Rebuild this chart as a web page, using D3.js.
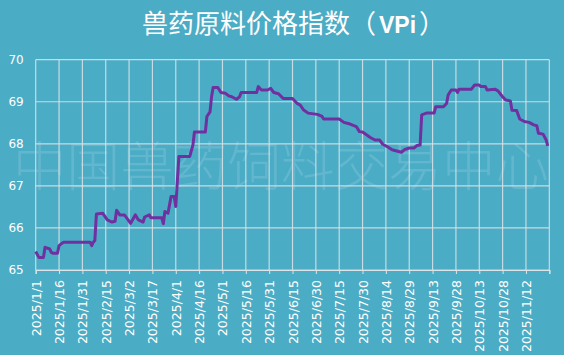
<!DOCTYPE html>
<html><head><meta charset="utf-8">
<script src="https://cdn.jsdelivr.net/npm/d3@7"></script>
<style>
html,body{margin:0;padding:0;background:#4BACC6;}
svg{display:block;}
</style></head>
<body>
<svg id="chart" width="564" height="355"></svg>
<script>
const titleText = "兽药原料价格指数";
const titleSuffix = "VPi";
const watermark = "中国兽药饲料交易中心";
const yTicks = [65, 66, 67, 68, 69, 70];
const xStart = "2025-01-01";
const xEnd = "2025-11-27";
const tickStepDays = 15;

const dates = [
"2025-01-01","2025-01-03","2025-01-06","2025-01-07","2025-01-10","2025-01-11","2025-01-12","2025-01-15","2025-01-16","2025-01-18","2025-01-19",
"2025-02-05","2025-02-06","2025-02-07","2025-02-08","2025-02-09","2025-02-13","2025-02-16","2025-02-19","2025-02-21","2025-02-22","2025-02-24","2025-02-27",
"2025-03-03","2025-03-06","2025-03-08","2025-03-11","2025-03-12","2025-03-15","2025-03-16","2025-03-23","2025-03-24","2025-03-25","2025-03-27","2025-03-29","2025-03-31",
"2025-04-01","2025-04-03","2025-04-10","2025-04-12","2025-04-13","2025-04-20","2025-04-21","2025-04-23","2025-04-24","2025-04-25","2025-04-28","2025-04-30",
"2025-05-03","2025-05-05","2025-05-07","2025-05-10","2025-05-12","2025-05-13","2025-05-23","2025-05-24","2025-05-26","2025-05-30",
"2025-06-01","2025-06-03","2025-06-06","2025-06-09","2025-06-15","2025-06-18","2025-06-20","2025-06-22","2025-06-25",
"2025-07-01","2025-07-04","2025-07-05","2025-07-15","2025-07-18","2025-07-22","2025-07-26","2025-07-28","2025-07-30",
"2025-08-04","2025-08-07","2025-08-10","2025-08-12","2025-08-15","2025-08-18","2025-08-21","2025-08-24","2025-08-26","2025-08-29",
"2025-09-01","2025-09-03","2025-09-05","2025-09-06","2025-09-09","2025-09-14","2025-09-15","2025-09-20","2025-09-22","2025-09-23","2025-09-25","2025-09-28","2025-09-29","2025-09-30",
"2025-10-08","2025-10-10","2025-10-13","2025-10-14","2025-10-17","2025-10-18","2025-10-23","2025-10-25","2025-10-28","2025-10-30",
"2025-11-02","2025-11-03","2025-11-06","2025-11-08","2025-11-11","2025-11-14","2025-11-17","2025-11-19","2025-11-20","2025-11-23","2025-11-25","2025-11-26"
];
const values = [
65.44,65.30,65.30,65.54,65.50,65.42,65.40,65.40,65.58,65.64,65.66,
65.66,65.58,65.66,65.70,66.33,66.35,66.19,66.14,66.16,66.42,66.31,66.31,
66.11,66.31,66.19,66.14,66.26,66.31,66.24,66.24,66.10,66.39,66.35,66.75,66.75,
66.51,67.70,67.70,67.97,68.28,68.28,68.65,68.76,69.12,69.34,69.34,69.22,
69.20,69.14,69.12,69.06,69.12,69.22,69.22,69.36,69.28,69.28,
69.32,69.22,69.19,69.08,69.08,68.96,68.92,68.81,68.73,
68.70,68.65,68.59,68.59,68.51,68.47,68.41,68.29,68.28,
68.15,68.09,68.09,67.99,67.93,67.86,67.83,67.80,67.86,67.90,
67.90,67.96,67.97,68.69,68.73,68.73,68.88,68.88,68.96,69.16,69.28,69.28,69.22,69.30,
69.30,69.40,69.40,69.36,69.36,69.28,69.30,69.26,69.12,69.04,
69.02,68.80,68.79,68.59,68.53,68.51,68.45,68.43,68.25,68.23,68.09,67.95
];

const parse = d3.utcParse("%Y-%m-%d");
const data = dates.map((d, i) => ({date: parse(d), value: values[i]}));

const svg = d3.select("#chart");
const W = 564, H = 355;
const m = {left: 35.7, right: 564 - 549.3, top: 59.7, bottom: 355 - 270};

svg.append("rect").attr("width", W).attr("height", H).attr("fill", "#4BACC6");

const x = d3.scaleUtc().domain([parse(xStart), parse(xEnd)]).range([m.left, W - m.right]);
const y = d3.scaleLinear().domain([65, 70]).range([H - m.bottom, m.top]);

const xTickDates = d3.utcDay.range(parse(xStart), d3.utcDay.offset(parse(xEnd), 1))
  .filter((d, i) => i % tickStepDays === 0);

// watermark
svg.append("text")
  .attr("x", 281).attr("y", 186)
  .attr("text-anchor", "middle")
  .attr("font-family", "'Noto Sans CJK SC', sans-serif")
  .attr("font-weight", 300)
  .attr("font-size", 53.5)
  .attr("textLength", 536)
  .attr("fill", "rgba(255,255,255,0.13)")
  .text(watermark);

// gridlines
const grid = svg.append("g");
grid.selectAll("line.h").data(yTicks).join("line")
  .attr("x1", m.left).attr("x2", W - m.right)
  .attr("y1", d => y(d)).attr("y2", d => y(d))
  .attr("stroke", "#dde3e6").attr("stroke-width", 1.2).attr("stroke-opacity", 0.85);
grid.selectAll("line.v").data(xTickDates).join("line")
  .attr("x1", d => x(d)).attr("x2", d => x(d))
  .attr("y1", m.top).attr("y2", H - m.bottom)
  .attr("stroke", "#dde3e6").attr("stroke-width", 1.2).attr("stroke-opacity", 0.85);

// x axis
const fmt = d => `${d.getUTCFullYear()}/${d.getUTCMonth() + 1}/${d.getUTCDate()}`;
const xAxis = d3.axisBottom(x).tickValues(xTickDates).tickSize(4)
  .tickFormat((d, i) => i < xTickDates.length - 1 ? fmt(d) : "");
const gx = svg.append("g").attr("transform", `translate(0,${H - m.bottom})`).call(xAxis);
gx.select(".domain").attr("stroke", "#dde3e6").attr("stroke-width", 1.2);
gx.selectAll(".tick line").attr("stroke", "#dde3e6");
gx.selectAll(".tick text")
  .attr("fill", "#ffffff")
  .attr("font-family", "'DejaVu Sans', sans-serif")
  .attr("font-size", 12.5)
  .attr("text-anchor", "end")
  .attr("transform", "rotate(-90)")
  .attr("x", -10).attr("y", 0).attr("dy", "0.36em");

// y axis
const yAxis = d3.axisLeft(y).tickValues(yTicks).tickSize(0).tickPadding(12).tickFormat(d3.format("d"));
const gy = svg.append("g").attr("transform", `translate(${m.left},0)`).call(yAxis);
gy.select(".domain").remove();
gy.selectAll(".tick text")
  .attr("fill", "#ffffff")
  .attr("font-family", "'DejaVu Sans', sans-serif")
  .attr("font-size", 12);

// line
const line = d3.line().x(d => x(d.date)).y(d => y(d.value));
svg.append("path").datum(data)
  .attr("d", line)
  .attr("fill", "none")
  .attr("stroke", "#7030A0")
  .attr("stroke-width", 3)
  .attr("stroke-linejoin", "round");

// title
const t = svg.append("text")
  .attr("x", 142).attr("y", 33)
  .attr("text-anchor", "start")
  .attr("font-family", "'Noto Sans CJK SC', sans-serif")
  .attr("font-size", 26)
  .attr("fill", "#ffffff");
t.append("tspan").text(titleText + "（");
t.append("tspan").attr("dx", 3).attr("font-weight", "bold").attr("font-size", 23)
  .attr("font-family", "'Liberation Sans', 'Noto Sans CJK SC', sans-serif").text(titleSuffix);
t.append("tspan").attr("dx", 3).text("）");
</script>
</body></html>
